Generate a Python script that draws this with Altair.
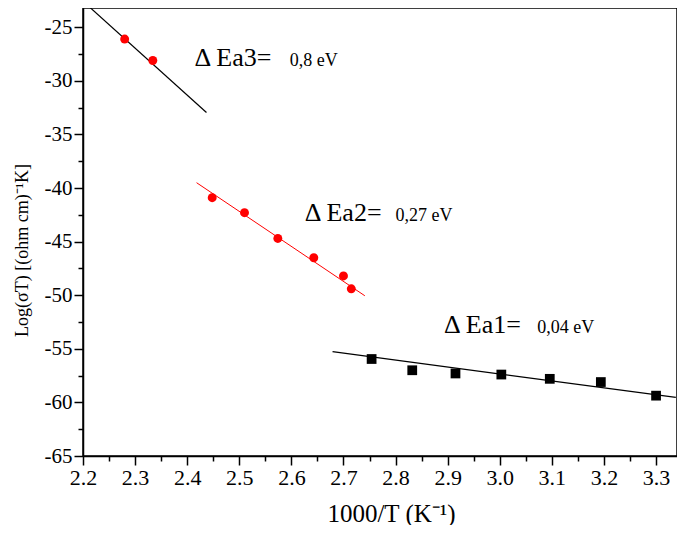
import altair as alt
import pandas as pd

# ---- data ----
ea1_x = [2.754, 2.832, 2.915, 3.003, 3.096, 3.194, 3.300]
ea1_y = [-55.95, -57.0, -57.3, -57.4, -57.8, -58.1, -59.37]
ea2_x = [2.448, 2.510, 2.574, 2.643, 2.700, 2.715]
ea2_y = [-40.9, -42.3, -44.7, -46.5, -48.2, -49.4]
ea3_x = [2.280, 2.334]
ea3_y = [-26.1, -28.1]

fit1_x = [2.679, 3.338]
fit1_y = [-55.27, -59.53]
fit2_x = [2.418, 2.741]
fit2_y = [-39.5, -50.05]
fit3_x = [2.210, 2.437]
fit3_y = [-23.0, -32.95]

ann_big_x = [2.414, 2.6255, 2.893]
ann_val_x = [2.597, 2.800, 3.072]
ann_y = [-28.6, -43.1, -53.5]
ann_big = ["Δ Ea3=", "Δ Ea2=", "Δ Ea1="]
ann_val = ["0,8 eV", "0,27 eV", "0,04 eV"]

x_major = [2.2, 2.3, 2.4, 2.5, 2.6, 2.7, 2.8, 2.9, 3.0, 3.1, 3.2, 3.3]
x_minor = [2.25, 2.35, 2.45, 2.55, 2.65, 2.75, 2.85, 2.95, 3.05, 3.15, 3.25]
y_major = [-65, -60, -55, -50, -45, -40, -35, -30, -25]
y_minor = [-62.5, -57.5, -52.5, -47.5, -42.5, -37.5, -32.5, -27.5]

x_title = "1000/T (K⁻¹)"
y_title = "Log(σT) [(ohm cm)⁻¹K]"

# ---- tables ----
black_pts = pd.DataFrame({"x": ea1_x, "y": ea1_y})
red_pts = pd.DataFrame({"x": ea2_x + ea3_x, "y": ea2_y + ea3_y})
black_fit = pd.DataFrame({"x": fit1_x + fit3_x, "y": fit1_y + fit3_y,
                          "seg": ["1", "1", "3", "3"]})
red_fit = pd.DataFrame({"x": fit2_x, "y": fit2_y})
ann_a = pd.DataFrame({"x": ann_big_x, "y": ann_y, "t": ann_big})
ann_b = pd.DataFrame({"x": ann_val_x, "y": ann_y, "t": ann_val})

FONT = "Liberation Serif"
xs = alt.Scale(domain=[2.2, 3.3402], nice=False, zero=False)
ys = alt.Scale(domain=[-65, -23.2], nice=False, zero=False)

x_axis = alt.Axis(values=x_major, labelExpr="format(datum.value, '.1f')",
                  tickSize=9, labelPadding=2, labelFontSize=22, labelFlush=False,
                  titleFontSize=25, titleX=308, titleY=65, titleAlign="center",
                  titleBaseline="alphabetic", grid=False)
y_axis = alt.Axis(values=y_major, labelExpr="datum.value + ''",
                  tickSize=9, labelPadding=2, labelFontSize=21, labelFlush=False,
                  titleFontSize=18, titleX=-56, titleY=242, titleAngle=270,
                  titleAlign="center", titleBaseline="alphabetic", grid=False)

X = alt.X("x:Q", scale=xs, axis=x_axis, title=x_title)
Y = alt.Y("y:Q", scale=ys, axis=y_axis, title=y_title)

lines_black = alt.Chart(black_fit).mark_line(color="black", strokeWidth=1.2).encode(
    x=X, y=Y, detail="seg:N")
lines_red = alt.Chart(red_fit).mark_line(color="#ff0000", strokeWidth=1.0).encode(x=X, y=Y)
pts_black = alt.Chart(black_pts).mark_square(size=95, color="black", opacity=1).encode(x=X, y=Y)
pts_red = alt.Chart(red_pts).mark_circle(size=80, color="#ff0000", opacity=1).encode(x=X, y=Y)
txt_a = alt.Chart(ann_a).mark_text(font=FONT, fontSize=26, align="left",
                                   baseline="alphabetic", color="black").encode(x=X, y=Y, text="t:N")
txt_b = alt.Chart(ann_b).mark_text(font=FONT, fontSize=18, align="left",
                                   baseline="alphabetic", color="black").encode(x=X, y=Y, text="t:N")

main = alt.layer(lines_black, lines_red, pts_black, pts_red, txt_a, txt_b)

minor = alt.Chart(black_pts).mark_point(opacity=0).encode(
    x=alt.X("x:Q", scale=xs, title=None,
            axis=alt.Axis(values=x_minor, orient="bottom", labels=False, domain=False,
                          tickSize=5, grid=False)),
    y=alt.Y("y:Q", scale=ys, title=None,
            axis=alt.Axis(values=y_minor, orient="left", labels=False, domain=False,
                          tickSize=5, grid=False)),
)

chart = alt.layer(main, minor).resolve_axis(x="independent", y="independent").properties(
    width=594, height=448,
    autosize=alt.AutoSizeParams(type="none"),
    padding={"left": 75, "top": 0, "right": 0, "bottom": 69},
).configure_view(stroke="black", strokeWidth=1.5).configure_axis(
    domainColor="black", domainWidth=1.5, tickColor="black", tickWidth=1.5,
    labelColor="black", titleColor="black", labelFont=FONT, titleFont=FONT,
    titleFontWeight="normal",
)

chart.save("out.html", embed_options={"renderer": "svg", "actions": False})
